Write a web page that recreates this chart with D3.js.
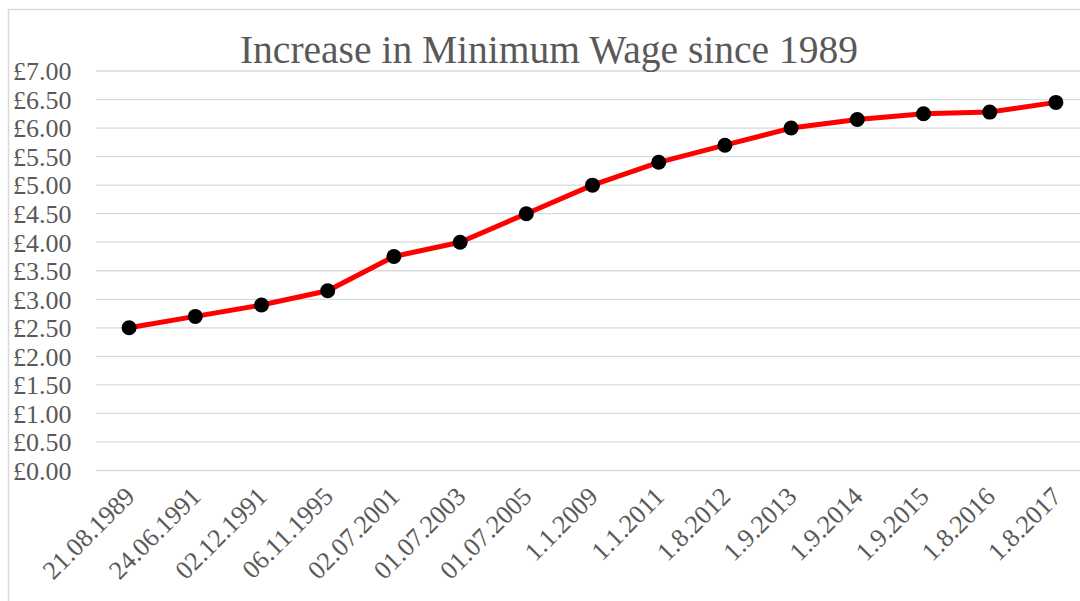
<!DOCTYPE html>
<html>
<head>
<meta charset="utf-8">
<script src="https://cdn.jsdelivr.net/npm/d3@7"></script>
<style>
  body { margin: 0; background: #fff; }
  text { font-family: "Liberation Serif", "DejaVu Serif", serif; fill: #595959; }
</style>
</head>
<body>
<script>
// donnees
var dates = ["21.08.1989", "24.06.1991", "02.12.1991", "06.11.1995", "02.07.2001",
             "01.07.2003", "01.07.2005", "1.1.2009", "1.1.2011", "1.8.2012",
             "1.9.2013", "1.9.2014", "1.9.2015", "1.8.2016", "1.8.2017"];
var wages = [2.50, 2.70, 2.90, 3.15, 3.75, 4.00, 4.50, 5.00, 5.40, 5.70,
             6.00, 6.15, 6.25, 6.28, 6.45];
var yTicks = [0, 0.5, 1, 1.5, 2, 2.5, 3, 3.5, 4, 4.5, 5, 5.5, 6, 6.5, 7];
var title = "Increase in Minimum Wage since 1989";

var W = 1080, H = 601;
var plot = {left: 96, right: 1089, top: 71, bottom: 470.5};

var svg = d3.select("body").append("svg")
    .attr("width", W)
    .attr("height", H);

// cadre du graphique
svg.append("path")
    .attr("d", "M8.5," + H + "V9.5H" + W)
    .attr("fill", "none")
    .attr("stroke", "#d9d9d9")
    .attr("stroke-width", 1.5);

// echelles
var x = d3.scaleBand().domain(dates).range([plot.left, plot.right]);
var y = d3.scaleLinear().domain([0, 7]).range([plot.bottom, plot.top]);

// grille horizontale
svg.append("g").selectAll("line")
    .data(yTicks)
    .enter().append("line")
    .attr("x1", plot.left)
    .attr("x2", W)
    .attr("y1", function(d) { return y(d); })
    .attr("y2", function(d) { return y(d); })
    .attr("stroke", "#d9d9d9")
    .attr("stroke-width", 1.3);

// axe Y
var yAxis = svg.append("g")
    .attr("transform", "translate(13,0)")
    .call(d3.axisLeft(y).tickValues(yTicks).tickSize(0).tickPadding(0)
        .tickFormat(function(d) { return "£" + d.toFixed(2); }));
yAxis.select(".domain").remove();
yAxis.selectAll("text")
    .attr("text-anchor", "start")
    .attr("dy", "0.34em")
    .style("font-size", "26px")
    .attr("fill", "#595959");

// axe X
var xAxis = svg.append("g")
    .attr("transform", "translate(0," + 498 + ")")
    .call(d3.axisBottom(x).tickSize(0).tickPadding(0));
xAxis.select(".domain").remove();
xAxis.selectAll("text")
    .attr("text-anchor", "end")
    .attr("dy", 0)
    .attr("y", 0)
    .attr("transform", "translate(7,0) rotate(-45)")
    .style("font-size", "26px")
    .attr("fill", "#595959");

// titre
svg.append("text")
    .attr("x", 549)
    .attr("y", 63)
    .attr("text-anchor", "middle")
    .style("font-size", "39.5px")
    .text(title);

// courbe
var ligne = d3.line()
    .x(function(d, i) { return x(dates[i]) + x.bandwidth() / 2; })
    .y(function(d) { return y(d); });

svg.append("path")
    .datum(wages)
    .attr("d", ligne)
    .attr("fill", "none")
    .attr("stroke", "#ff0000")
    .attr("stroke-width", 5)
    .attr("stroke-linejoin", "round");

svg.append("g").selectAll("circle")
    .data(wages)
    .enter().append("circle")
    .attr("cx", function(d, i) { return x(dates[i]) + x.bandwidth() / 2; })
    .attr("cy", function(d) { return y(d); })
    .attr("r", 7.5)
    .attr("fill", "#000");
</script>
</body>
</html>
